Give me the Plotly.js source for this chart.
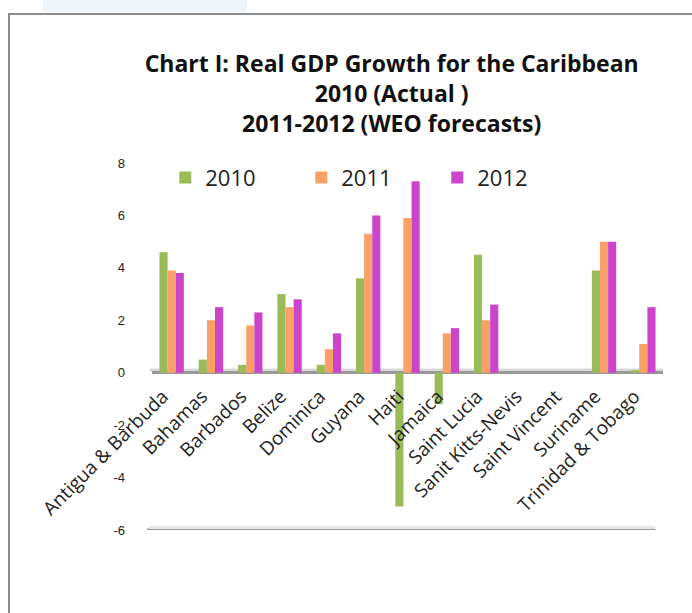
<!DOCTYPE html>
<html>
<head>
<meta charset="utf-8">
<script src="https://cdn.plot.ly/plotly-3.0.1.min.js"></script>
<style>
  html, body { margin: 0; padding: 0; background: #ffffff; }
  #wrap { position: relative; width: 692px; height: 613px; overflow: hidden; }
  #tab { position: absolute; left: 43px; top: 0; width: 204px; height: 12px; background: #eef6fc; }
  #frame { position: absolute; left: 8px; top: 13px; width: 700px; height: 620px;
           border-left: 2px solid #8c8c8c; border-top: 2px solid #8c8c8c; }
  #chart { position: absolute; left: 0; top: 0; width: 692px; height: 613px; }
</style>
</head>
<body>
<div id="wrap">
  <div id="tab"></div>
  <div id="frame"></div>
  <div id="chart"></div>
</div>
<script>
const countries = ["Antigua & Barbuda", "Bahamas", "Barbados", "Belize", "Dominica", "Guyana",
  "Haiti", "Jamaica", "Saint Lucia", "Sanit Kitts-Nevis", "Saint Vincent", "Suriname", "Trinidad & Tobago"];
const growth2010 = [4.6, 0.5, 0.3, 3.0, 0.3, 3.6, -5.1, -1.2, 4.5, null, null, 3.9, 0.1];
const growth2011 = [3.9, 2.0, 1.8, 2.5, 0.9, 5.3, 5.9, 1.5, 2.0, null, null, 5.0, 1.1];
const growth2012 = [3.8, 2.5, 2.3, 2.8, 1.5, 6.0, 7.3, 1.7, 2.6, null, null, 5.0, 2.5];
const seriesNames = ["2010", "2011", "2012"];
const yTicks = [-6, -4, -2, 0, 2, 4, 6, 8];
const yMin = -6, yMax = 8;

const colors = ["#9bbb59", "#f9a066", "#cc44cc"];
const values = [growth2010, growth2011, growth2012];

const traces = values.map((v, i) => ({
  type: "bar",
  name: seriesNames[i],
  x: countries,
  y: v,
  marker: { color: colors[i], line: { width: 0 } }
}));

const zeroPos = (0 - yMin) / (yMax - yMin);

const layout = {
  width: 692, height: 613,
  margin: { l: 152, r: 29, t: 163, b: 83 },
  paper_bgcolor: "rgba(0,0,0,0)",
  plot_bgcolor: "rgba(0,0,0,0)",
  barmode: "group",
  bargap: 0.38,
  bargroupgap: 0.0,
  title: {
    text: "<b>Chart I: Real GDP Growth for the Caribbean<br>2010 (Actual )<br>2011-2012 (WEO forecasts)</b>",
    font: { family: "Open Sans", size: 23, color: "#111111" },
    x: 0.566, xanchor: "center",
    y: 0.883, yanchor: "top"
  },
  showlegend: true,
  legend: {
    orientation: "h",
    x: 0.026, xanchor: "left",
    y: 0.96, yanchor: "middle",
    entrywidth: 91, entrywidthmode: "pixels",
    font: { family: "Open Sans", size: 22, color: "#222222" },
    bgcolor: "rgba(0,0,0,0)",
    traceorder: "normal"
  },
  xaxis: {
    type: "category",
    anchor: "free",
    position: zeroPos,
    tickangle: -45,
    showgrid: false,
    showline: false,
    zeroline: false,
    ticks: "",
    ticklabelshift: -9,
    ticklabelstandoff: 8,
    tickfont: { family: "Open Sans", size: 19, color: "#222222" },
    automargin: false
  },
  yaxis: {
    range: [yMin, yMax],
    tickvals: yTicks,
    ticktext: yTicks.map(String),
    showgrid: false,
    zeroline: true,
    zerolinecolor: "#999999",
    zerolinewidth: 3,
    showline: false,
    ticks: "",
    ticklabelstandoff: 26,
    tickfont: { family: "Liberation Sans", size: 13, color: "#222222" },
    automargin: false
  },
  shapes: [
    { type: "line", xref: "paper", yref: "y", x0: -0.01, x1: 0.985, y0: yMin, y1: yMin,
      line: { color: "#9a9a9a", width: 3 }, layer: "below" },
    { type: "line", xref: "paper", yref: "y", x0: -0.005, x1: 0.985, y0: yMin + 0.1, y1: yMin + 0.1,
      line: { color: "#e6e6e6", width: 3 }, layer: "below" },
    { type: "line", xref: "paper", yref: "y", x0: -0.005, x1: 1.0, y0: 0.1, y1: 0.1,
      line: { color: "#d8d8d8", width: 3 }, layer: "below" }
  ]
};

Plotly.newPlot("chart", traces, layout, { displayModeBar: false, staticPlot: true });
</script>
</body>
</html>
